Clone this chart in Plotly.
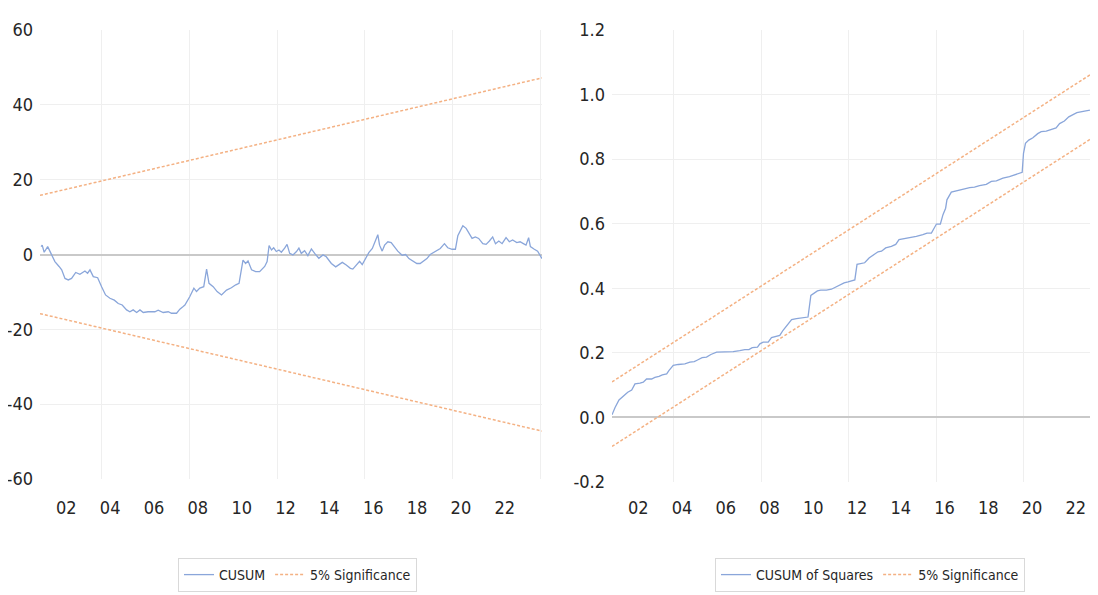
import plotly.graph_objects as go

# ---------------- data ----------------
cusum_t = [2000.85, 2000.90, 2000.99, 2001.15, 2001.30, 2001.48, 2001.67, 2001.79, 2001.94, 2002.09,
           2002.24, 2002.43, 2002.62, 2002.85, 2002.97, 2003.08, 2003.23, 2003.43, 2003.61, 2003.79,
           2003.99, 2004.19, 2004.37, 2004.55, 2004.75, 2004.90, 2005.05, 2005.21, 2005.36, 2005.51,
           2005.73, 2006.04, 2006.19, 2006.42, 2006.65, 2006.80, 2007.03, 2007.18, 2007.33, 2007.41,
           2007.63, 2007.82, 2007.94, 2008.09, 2008.27, 2008.40, 2008.51, 2008.70, 2008.88, 2009.08,
           2009.31, 2009.53, 2009.73, 2009.88, 2010.06, 2010.18, 2010.29, 2010.45, 2010.64, 2010.82,
           2011.05, 2011.16, 2011.25, 2011.36, 2011.46, 2011.58, 2011.70, 2011.81, 2011.96, 2012.07,
           2012.19, 2012.34, 2012.50, 2012.61, 2012.72, 2012.87, 2013.02, 2013.18, 2013.33, 2013.52,
           2013.71, 2013.86, 2014.09, 2014.29, 2014.44, 2014.59, 2014.77, 2014.96, 2015.07, 2015.23,
           2015.38, 2015.50, 2015.65, 2015.80, 2015.96, 2016.11, 2016.21, 2016.29, 2016.41, 2016.52,
           2016.67, 2016.82, 2016.97, 2017.12, 2017.32, 2017.48, 2017.63, 2017.81, 2017.99, 2018.14,
           2018.29, 2018.45, 2018.60, 2018.75, 2018.90, 2019.06, 2019.25, 2019.40, 2019.60, 2019.75,
           2019.86, 2019.97, 2020.09, 2020.24, 2020.39, 2020.51, 2020.66, 2020.81, 2021.00, 2021.15,
           2021.30, 2021.45, 2021.58, 2021.73, 2021.88, 2022.06, 2022.21, 2022.36, 2022.55, 2022.70,
           2022.85, 2022.97, 2023.09, 2023.17, 2023.35, 2023.50, 2023.70]
cusum = [2.1, 2.5, 0.6, 2.1, 0.3, -1.9, -3.2, -4.1, -6.4, -6.8,
         -6.4, -4.8, -5.3, -4.4, -5.0, -4.1, -5.9, -6.2, -8.6, -10.8,
         -11.7, -12.2, -13.1, -13.5, -14.8, -15.3, -14.8, -15.5, -14.8, -15.5,
         -15.3, -15.3, -14.9, -15.5, -15.3, -15.7, -15.7, -14.6, -13.9, -13.5,
         -11.3, -9.0, -9.9, -9.0, -8.6, -3.9, -7.7, -8.6, -9.9, -10.8,
         -9.5, -8.9, -8.1, -7.7, -1.5, -2.4, -1.7, -4.1, -4.6, -4.6,
         -3.2, -1.9, 2.4, 1.2, 1.8, 0.8, 1.2, 0.6, 1.7, 2.7,
         0.3, -0.1, 0.8, 1.7, 0.3, 1.0, -0.3, 1.5, 0.3, -1.0,
         -0.1, -0.6, -2.4, -3.3, -2.7, -2.1, -2.8, -3.7, -3.9, -2.8,
         -1.8, -2.7, -1.1, 0.5, 1.6, 4.1, 5.3, 2.5, 0.9, 2.5,
         3.4, 3.2, 2.1, 0.9, -0.2, 0.0, -1.1, -1.8, -2.4, -2.4,
         -1.8, -1.1, 0.0, 0.5, 0.9, 1.6, 2.9, 1.8, 1.4, 1.4,
         5.0, 6.2, 7.7, 7.0, 5.6, 4.3, 4.7, 4.3, 2.9, 2.7,
         3.6, 4.7, 2.9, 3.6, 2.9, 4.5, 3.4, 3.9, 3.2, 3.4,
         2.9, 2.5, 4.5, 2.1, 1.4, 0.9, -1.1]

cusum_bound_t = [2000.8, 2023.7]
cusum_upper = [15.8, 47.2]
cusum_lower = [-15.8, -47.2]

cusumsq_t = [2000.80, 2000.94, 2001.12, 2001.32, 2001.52, 2001.70, 2001.85, 2002.08, 2002.23, 2002.38,
             2002.61, 2002.76, 2002.95, 2003.10, 2003.30, 2003.40, 2003.60, 2003.83, 2004.13, 2004.36,
             2004.56, 2004.71, 2004.92, 2005.12, 2005.32, 2005.58, 2005.96, 2006.34, 2006.64, 2006.87,
             2007.06, 2007.21, 2007.45, 2007.56, 2007.71, 2007.94, 2008.09, 2008.32, 2008.47, 2008.62,
             2008.82, 2009.01, 2009.23, 2009.61, 2009.76, 2009.89, 2010.04, 2010.19, 2010.34, 2010.60,
             2010.83, 2010.98, 2011.21, 2011.41, 2011.59, 2011.90, 2012.00, 2012.20, 2012.35, 2012.55,
             2012.73, 2012.96, 2013.12, 2013.31, 2013.57, 2013.77, 2013.92, 2014.18, 2014.48, 2014.71,
             2015.01, 2015.20, 2015.40, 2015.50, 2015.63, 2015.81, 2015.93, 2016.05, 2016.11, 2016.31,
             2016.54, 2016.77, 2016.92, 2017.15, 2017.37, 2017.60, 2017.91, 2018.14, 2018.37, 2018.67,
             2018.97, 2019.28, 2019.55, 2019.61, 2019.70, 2019.85, 2020.04, 2020.26, 2020.42, 2020.65,
             2020.88, 2021.10, 2021.26, 2021.48, 2021.68, 2021.86, 2022.05, 2022.40, 2022.66, 2022.78,
             2022.90, 2022.96]
cusumsq = [0.008, 0.031, 0.054, 0.067, 0.078, 0.085, 0.104, 0.106, 0.109, 0.119,
           0.119, 0.124, 0.127, 0.132, 0.135, 0.145, 0.161, 0.164, 0.166, 0.171,
           0.173, 0.178, 0.185, 0.187, 0.195, 0.202, 0.202, 0.204, 0.207, 0.210,
           0.210, 0.216, 0.218, 0.228, 0.233, 0.233, 0.247, 0.251, 0.254, 0.270,
           0.288, 0.303, 0.306, 0.309, 0.311, 0.378, 0.384, 0.392, 0.394, 0.394,
           0.397, 0.402, 0.412, 0.417, 0.420, 0.426, 0.474, 0.477, 0.479, 0.494,
           0.503, 0.513, 0.515, 0.525, 0.530, 0.536, 0.551, 0.554, 0.558, 0.561,
           0.566, 0.571, 0.571, 0.582, 0.599, 0.599, 0.628, 0.648, 0.674, 0.698,
           0.702, 0.705, 0.708, 0.712, 0.713, 0.718, 0.722, 0.731, 0.733, 0.741,
           0.746, 0.753, 0.759, 0.818, 0.849, 0.859, 0.866, 0.879, 0.885, 0.887,
           0.893, 0.897, 0.910, 0.918, 0.931, 0.938, 0.944, 0.949, 0.952, 0.962,
           0.993, 0.996]

cusumsq_bound_t = [2000.8, 2022.97]
cusumsq_upper = [0.11, 1.075]
cusumsq_lower = [-0.09, 0.875]

tick_years = [2002, 2004, 2006, 2008, 2010, 2012, 2014, 2016, 2018, 2020, 2022]
tick_labels = ["02", "04", "06", "08", "10", "12", "14", "16", "18", "20", "22"]
grid_years = [2003.62, 2007.62, 2011.62, 2015.62, 2019.62, 2023.62]
cusum_ticks = [-60, -40, -20, 0, 20, 40, 60]
cusum_tick_text = ["-60", "-40", "-20", "0", "20", "40", "60"]
cusumsq_ticks = [-0.2, 0.0, 0.2, 0.4, 0.6, 0.8, 1.0, 1.2]
cusumsq_tick_text = ["-0.2", "0.0", "0.2", "0.4", "0.6", "0.8", "1.0", "1.2"]

# ---------------- style ----------------
BLUE = "#8aa6da"
ORANGE = "#f4b183"
FONT = "DejaVu Sans Condensed, Liberation Sans Narrow, sans-serif"
TXT = "#262626"
GRID = "#efefef"
W, H = 1090, 587   # page has an 8px body margin

fig = go.Figure()
fig.add_trace(go.Scatter(x=cusum_t, y=cusum, mode="lines", name="CUSUM",
                         line=dict(color=BLUE, width=1.3), xaxis="x", yaxis="y", legend="legend"))
fig.add_trace(go.Scatter(x=cusum_bound_t, y=cusum_upper, mode="lines", name="5% Significance",
                         line=dict(color=ORANGE, width=1.5, dash="3px,2px"), xaxis="x", yaxis="y",
                         legend="legend", legendgroup="sig1"))
fig.add_trace(go.Scatter(x=cusum_bound_t, y=cusum_lower, mode="lines", name="5% Significance",
                         line=dict(color=ORANGE, width=1.5, dash="3px,2px"), xaxis="x", yaxis="y",
                         legend="legend", legendgroup="sig1", showlegend=False))

fig.add_trace(go.Scatter(x=cusumsq_t, y=cusumsq, mode="lines", name="CUSUM of Squares",
                         line=dict(color=BLUE, width=1.3), xaxis="x2", yaxis="y2", legend="legend2"))
fig.add_trace(go.Scatter(x=cusumsq_bound_t, y=cusumsq_upper, mode="lines", name="5% Significance",
                         line=dict(color=ORANGE, width=1.5, dash="3px,2px"), xaxis="x2", yaxis="y2",
                         legend="legend2", legendgroup="sig2"))
fig.add_trace(go.Scatter(x=cusumsq_bound_t, y=cusumsq_lower, mode="lines", name="5% Significance",
                         line=dict(color=ORANGE, width=1.5, dash="3px,2px"), xaxis="x2", yaxis="y2",
                         legend="legend2", legendgroup="sig2", showlegend=False))

def xax(domain, rng, anchor, standoff):
    return dict(domain=domain, range=rng, anchor=anchor, tickmode="array", tickvals=tick_years,
                ticktext=tick_labels, showgrid=False, zeroline=False, showline=False, ticks="",
                automargin=False,
                ticklabelstandoff=standoff, tickfont=dict(family=FONT, size=18, color=TXT),
                minor=dict(tickmode="array", tickvals=grid_years, showgrid=True, gridcolor=GRID,
                           gridwidth=1, ticks=""))

def yax(domain, rng, vals, text, anchor):
    return dict(domain=domain, range=rng, anchor=anchor, tickmode="array", tickvals=vals,
                ticktext=text, showgrid=True,
                gridcolor=GRID, gridwidth=1, zeroline=True, zerolinecolor="#c9c9c9", zerolinewidth=1.6,
                showline=False, ticks="", ticklabelstandoff=6, automargin=False,
                tickfont=dict(family=FONT, size=18, color=TXT))

fig.update_layout(
    width=W, height=H,
    margin=dict(l=0, r=0, t=0, b=0, autoexpand=False),
    paper_bgcolor="white", plot_bgcolor="white",
    font=dict(family=FONT, color=TXT),
    xaxis=xax([32 / W, 534 / W], [2000.8, 2023.7], "y", 16),
    yaxis=yax([1 - 471 / H, 1 - 22 / H], [-60, 60], cusum_ticks, cusum_tick_text, "x"),
    xaxis2=xax([604 / W, 1089 / W], [2000.8, 2022.97], "y2", 13),
    yaxis2=yax([1 - 474 / H, 1 - 22 / H], [-0.2, 1.2], cusumsq_ticks, cusumsq_tick_text, "x2"),
    legend=dict(orientation="h", x=170 / W, xanchor="left", y=1 - 550 / H, yanchor="top",
                bordercolor="#d9d9d9", borderwidth=1, bgcolor="white",
                font=dict(family=FONT, size=14, color=TXT), itemwidth=30,
                traceorder="normal"),
    legend2=dict(orientation="h", x=707 / W, xanchor="left", y=1 - 550 / H, yanchor="top",
                 bordercolor="#d9d9d9", borderwidth=1, bgcolor="white",
                 font=dict(family=FONT, size=14, color=TXT), itemwidth=30,
                 traceorder="normal"),
    showlegend=True,
)

fig.write_html("out.html")
